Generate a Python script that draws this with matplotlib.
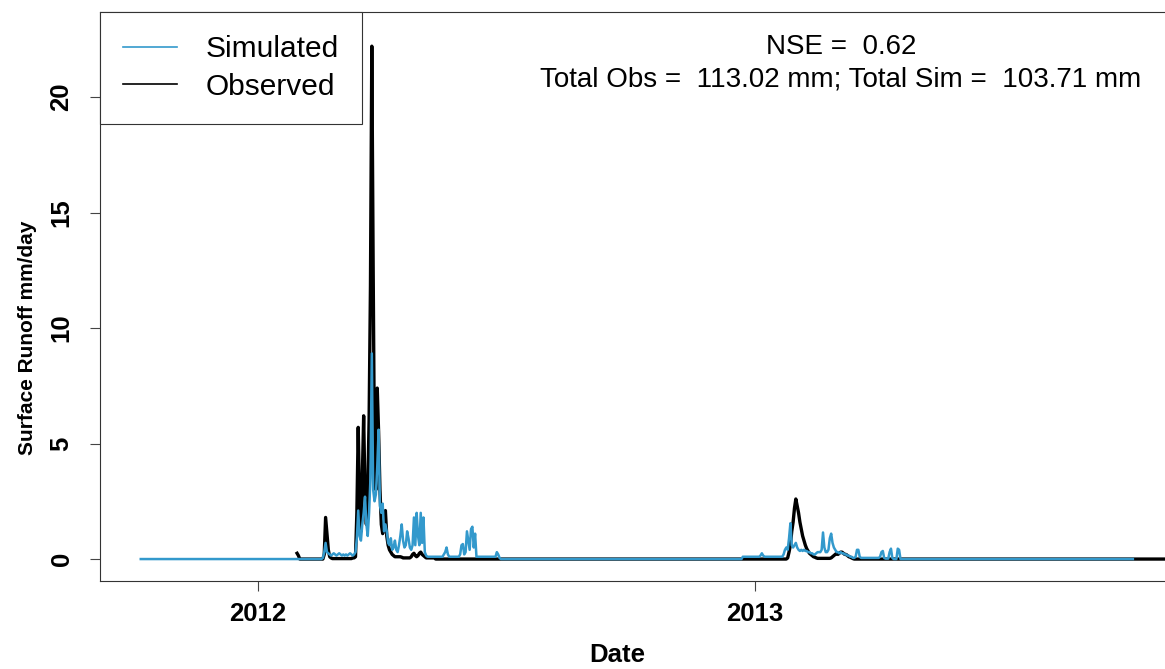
import pandas as pd
import matplotlib
matplotlib.use("Agg")
import matplotlib.pyplot as plt
from matplotlib.lines import Line2D

plt.rcParams['font.family'] = ['Liberation Sans', 'DejaVu Sans']

# periods covered by each series; days outside the windows below are 0 mm/day
sim_first, sim_last = "2011-10-07", "2013-10-06"
obs_first, obs_last = "2012-01-30", "2013-12-31"

# observed daily surface runoff (mm/day), each list starts at its date
obs_a_start = "2012-01-30"
obs_a = [0.25, 0.15]
obs_b_start = "2012-02-18"
obs_b = ([0.0, 0.2, 1.8, 1.1, 0.4, 0.1, 0.05] + [0.02] * 15 +
         [0.05, 0.05, 0.1, 2.0, 5.7, 2.5, 1.2, 3.5, 6.2, 2.8, 1.5, 3.0, 6.0, 11.8,
          22.2, 12.6, 4.0, 3.0, 7.4, 5.5, 3.0, 1.5, 1.1, 1.4, 2.1, 1.0, 0.6, 0.4,
          0.3, 0.2, 0.15] +
         [0.1] * 5 + [0.08] + [0.05] * 6 +
         [0.1, 0.2, 0.25, 0.15, 0.1, 0.15, 0.25, 0.3, 0.2, 0.15, 0.1] + [0.05] * 7)
obs_c_start = "2013-01-21"
obs_c = [0.0, 0.0, 0.0, 0.0, 0.05, 0.3, 0.6, 1.2, 1.6, 2.2, 2.6, 2.3, 2.0, 1.6,
         1.3, 1.0, 0.8, 0.6, 0.45, 0.35, 0.25, 0.2, 0.15, 0.1, 0.08, 0.05] + [0.03] * 10 + \
        [0.05, 0.1, 0.15, 0.2, 0.25, 0.2, 0.25, 0.3, 0.3, 0.25, 0.2, 0.2, 0.15, 0.1,
         0.08, 0.05, 0.02]

# simulated daily surface runoff (mm/day)
sim_a_start = "2012-02-18"
sim_a = ([0.05, 0.3, 0.7, 0.3, 0.25, 0.2, 0.15, 0.2, 0.25, 0.2, 0.15, 0.2, 0.25,
          0.2, 0.15, 0.2, 0.15, 0.2, 0.15, 0.2, 0.25, 0.2] +
         [0.15, 0.2, 0.3, 0.9, 2.1, 1.0, 0.8, 1.5, 2.0, 2.7, 1.5, 1.0, 2.0, 3.5, 8.9, 3.0] +
         [2.5, 2.8, 4.0, 5.6, 2.3, 2.0, 2.4, 1.2, 1.5, 1.2, 0.7, 0.6, 0.9, 0.4] +
         [0.5, 0.8, 0.4, 0.3, 0.6, 1.0, 1.5, 0.8, 0.5, 0.6, 1.2, 0.9, 0.5, 0.4, 0.6,
          1.8, 0.6, 2.0, 1.0, 0.6, 2.0, 0.7, 1.8, 0.3, 0.15] +
         [0.1] * 12 + [0.2, 0.3, 0.5, 0.2] + [0.1] * 8 +
         [0.2, 0.6, 0.65, 0.2, 0.3, 1.2, 0.8, 0.4, 1.3, 1.4, 0.5, 1.1, 0.1] +
         [0.1] * 14 + [0.3, 0.2, 0.05])
sim_b_start = "2012-12-23"
sim_b = ([0.1] * 13 + [0.15, 0.25, 0.15] + [0.1] * 13 +
         [0.1, 0.2, 0.4, 0.5, 0.4, 0.9, 1.55, 0.6, 0.5, 0.6, 0.7, 0.5, 0.4, 0.35, 0.4,
          0.35, 0.4, 0.35, 0.35, 0.3, 0.3, 0.25, 0.25, 0.2, 0.2, 0.25, 0.3, 0.3, 0.3, 0.4] +
         [1.15, 0.5, 0.3, 0.3, 0.4, 0.9, 1.1, 0.7, 0.5, 0.4, 0.3, 0.3, 0.25, 0.3, 0.25,
          0.25, 0.2, 0.2, 0.15, 0.15, 0.1, 0.1, 0.05, 0.05, 0.1, 0.4, 0.4, 0.1, 0.05] +
         [0.05] * 13 + [0.1, 0.3, 0.35, 0.05, 0.02, 0.02, 0.02, 0.3, 0.45, 0.05,
                        0.0, 0.0, 0.0, 0.45, 0.4])

nse = 0.62
total_obs = 113.02
total_sim = 103.71


def daily(first, last, windows):
    s = pd.Series(0.0, index=pd.date_range(first, last, freq="D"))
    for start, vals in windows:
        idx = pd.date_range(start, periods=len(vals), freq="D")
        s.loc[idx] = vals
    return s


obs = daily(obs_first, obs_last, [(obs_a_start, obs_a), (obs_b_start, obs_b), (obs_c_start, obs_c)])
sim = daily(sim_first, sim_last, [(sim_a_start, sim_a), (sim_b_start, sim_b)])

fig = plt.figure(figsize=(11.65, 6.69), dpi=100)
ax = fig.add_axes([100 / 1165, 1 - 581 / 669, 1075 / 1165, 569 / 669])

ax.plot(obs.index, obs.values, color="black", lw=2.4)
ax.plot(sim.index, sim.values, color="#3399CC", lw=1.8)

ax.set_xlim(pd.Timestamp("2011-09-07"), pd.Timestamp("2013-11-06"))
ax.set_ylim(-0.95, 23.68)

ax.set_xticks([pd.Timestamp("2012-01-01"), pd.Timestamp("2013-01-01")])
ax.set_xticklabels(["2012", "2013"])
ax.set_yticks([0, 5, 10, 15, 20])
ax.set_yticklabels(["0", "5", "10", "15", "20"], rotation=90, va="center")
ax.tick_params(axis="both", labelsize=18.5, length=7, width=0.8, color="#444444")
ax.tick_params(axis="x", pad=8)
ax.tick_params(axis="y", pad=12)
for lab in ax.get_xticklabels() + ax.get_yticklabels():
    lab.set_fontweight("bold")

for sp in ax.spines.values():
    sp.set_linewidth(0.8)
    sp.set_color("#333333")

ax.set_xlabel("Date", fontsize=18.5, fontweight="bold", va="center")
ax.set_ylabel("Surface Runoff mm/day", fontsize=15, fontweight="bold", va="center")
ax.xaxis.set_label_coords((617 - 100) / 1075, (581 - 655) / 569)
ax.yaxis.set_label_coords((28 - 100) / 1075, (581 - 338) / 569)

handles = [Line2D([], [], color="#3399CC", lw=1.2), Line2D([], [], color="black", lw=1.2)]
leg = ax.legend(handles, ["Simulated", "Observed"], loc="upper left", bbox_to_anchor=(0, 1),
                borderaxespad=0, fancybox=False, edgecolor="#333333", framealpha=1,
                fontsize=21.5, handlelength=1.8, handletextpad=0.95, labelspacing=0.32,
                borderpad=0.78)
leg.get_frame().set_linewidth(0.8)

fig.text(841 / 1165, 1 - 47 / 669, f"NSE =  {nse:.2f}", ha="center", va="center", fontsize=20)
fig.text(841 / 1165, 1 - 80 / 669,
         f"Total Obs =  {total_obs:.2f} mm; Total Sim =  {total_sim:.2f} mm",
         ha="center", va="center", fontsize=20)

fig.savefig("out.png", dpi=100)
